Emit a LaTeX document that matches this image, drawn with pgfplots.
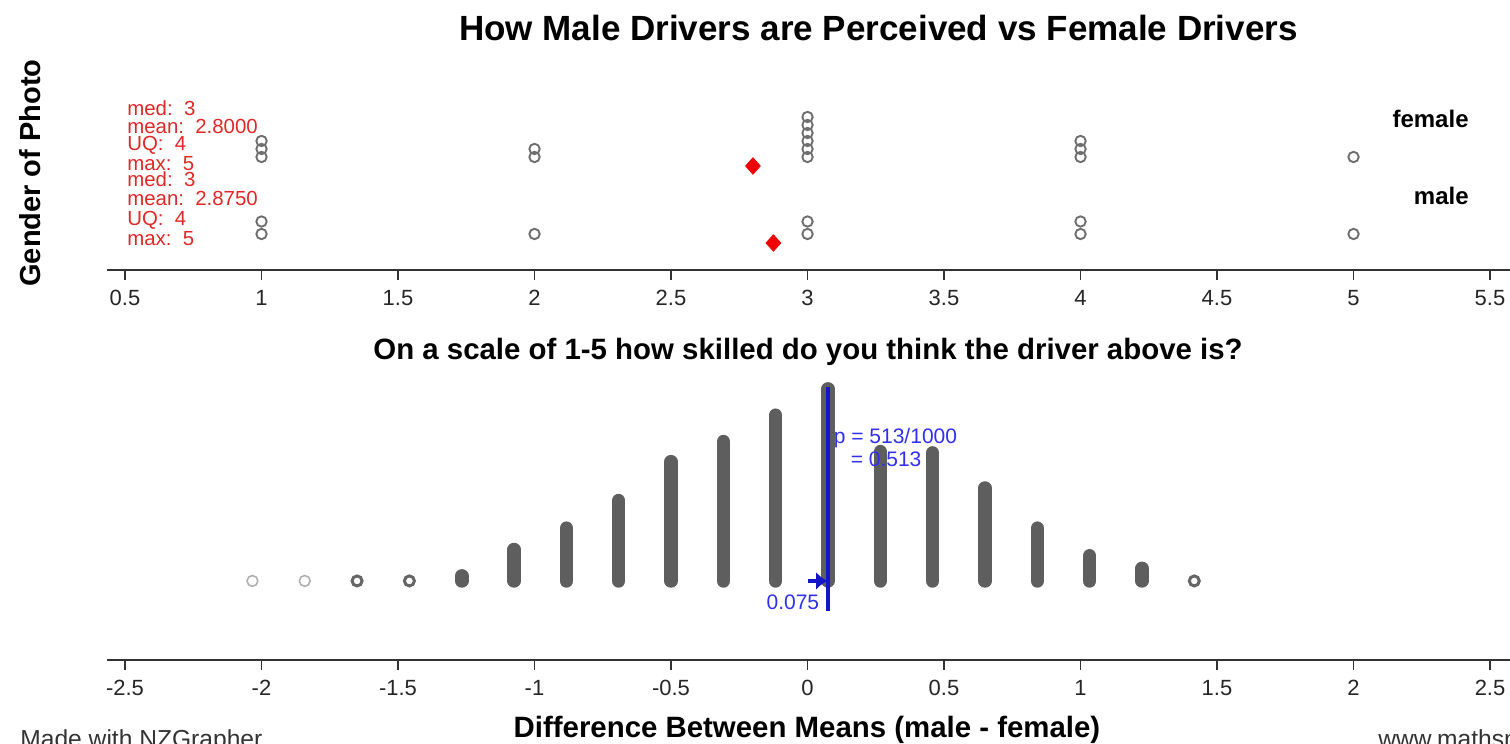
\documentclass[border=0pt]{standalone}
\usepackage{pgfplots}
\pgfplotsset{compat=1.18}
\usepackage{pgfplotstable}
\usepackage{fontspec}
\setmainfont{Liberation Sans}
\usetikzlibrary{arrows.meta}
\definecolor{dotgray}{HTML}{6E6E6E}
\definecolor{lightring}{HTML}{B0B0B0}
\definecolor{midring}{HTML}{666666}
\definecolor{stackgray}{HTML}{5E5E5E}
\definecolor{nzred}{HTML}{E02828}
\definecolor{nzdiamond}{HTML}{F00000}
\definecolor{nzblue}{HTML}{1414C8}
\definecolor{nzbluetext}{HTML}{3030EE}
\definecolor{axisgray}{HTML}{333333}

% randomisation distribution: difference between means (male - female), 1000 re-randomisations
\pgfplotstableread{
x count
-2.0333 1
-1.8417 1
-1.6500 2
-1.4583 3
-1.2667 5
-1.0750 26
-0.8833 43
-0.6917 65
-0.5000 96
-0.3083 112
-0.1167 133
0.0750 154
0.2667 104
0.4583 103
0.6500 75
0.8417 43
1.0333 21
1.2250 11
1.4167 2
}\stacks

\pgfplotsset{
  nzaxis/.style={
    x=136.5pt,
    axis x line=bottom, axis y line=none,
    x axis line style={-, line width=1.2pt, color=axisgray},
    xtick align=outside,
    major tick length=5pt,
    tick style={line width=0.8pt, color=axisgray},
    xticklabel style={font=\fontsize{11}{13}\selectfont, text=black!85, yshift=-1.5pt},
    /pgf/number format/assume math mode=true,
    clip=false,
  }
}

\begin{document}
\begin{tikzpicture}
\useasboundingbox (0,0) rectangle (755pt,372pt);

% titles and labels
\node[anchor=base, inner sep=0pt, font=\fontsize{17.5}{20}\selectfont\bfseries] at (439.25pt,351.75pt) {How Male Drivers are Perceived vs Female Drivers};
\node[anchor=base, inner sep=0pt, font=\fontsize{14.7}{17}\selectfont\bfseries] at (404pt,192pt) {On a scale of 1-5 how skilled do you think the driver above is?};
\node[anchor=base, inner sep=0pt, font=\fontsize{14.7}{17}\selectfont\bfseries] at (403.5pt,3pt) {Difference Between Means (male - female)};
\node[rotate=90, anchor=center, inner sep=0pt, font=\fontsize{14.5}{17}\selectfont\bfseries] at (15pt,285.5pt) {Gender of Photo};
\node[anchor=base west, inner sep=0pt, font=\fontsize{12.3}{14}\selectfont, text=black!80] at (10pt,-1.8pt) {Made with NZGrapher};
\node[anchor=base west, inner sep=0pt, font=\fontsize{12.3}{14}\selectfont, text=black!80] at (689pt,-1.8pt) {www.mathsnz.com};

% ---------------- top panel: dot plot ----------------
\begin{axis}[nzaxis,
  at={(53.5pt,237pt)}, anchor=south west,
  y=0.5pt,
  xmin=0.434, xmax=5.573, ymin=0, ymax=180,
  xtick={0.5,1,1.5,2,2.5,3,3.5,4,4.5,5,5.5},
  xticklabels={0.5,1,1.5,2,2.5,3,3.5,4,4.5,5,5.5},
]
% female ratings (n = 15)
\addplot[only marks, mark=o, mark size=2.6pt, color=dotgray, line width=0.95pt] coordinates {
 (1,113) (1,121) (1,129)
 (2,113) (2,121)
 (3,113) (3,121) (3,129) (3,137) (3,145) (3,153)
 (4,113) (4,121) (4,129)
 (5,113)
};
% male ratings (n = 8)
\addplot[only marks, mark=o, mark size=2.6pt, color=dotgray, line width=0.95pt] coordinates {
 (1,36) (1,48.5)
 (2,36)
 (3,36) (3,48.5)
 (4,36) (4,48.5)
 (5,36)
};
% means
\addplot[only marks, mark=diamond*, mark size=4.1pt, color=nzdiamond, mark options={xscale=1.2, line join=round}] coordinates {(2.8,104) (2.875,27)};

\begin{scope}[every node/.style={anchor=west, inner sep=0pt, font=\fontsize{10.2}{12}\selectfont, text=nzred}]
\node at (axis cs:0.507,161.3) {med:\ \ 3};
\node at (axis cs:0.507,143.7) {mean:\ \ 2.8000};
\node at (axis cs:0.507,124.7) {UQ:\ \ 4};
\node at (axis cs:0.507,106.3) {max:\ \ 5};
\node at (axis cs:0.507,91) {med:\ \ 3};
\node at (axis cs:0.507,71.3) {mean:\ \ 2.8750};
\node at (axis cs:0.507,49.7) {UQ:\ \ 4};
\node at (axis cs:0.507,31.3) {max:\ \ 5};
\end{scope}
\node[anchor=east, inner sep=0pt, font=\fontsize{12}{14}\selectfont\bfseries] at (axis cs:5.423,151) {female};
\node[anchor=east, inner sep=0pt, font=\fontsize{12}{14}\selectfont\bfseries] at (axis cs:5.423,74) {male};
\end{axis}

% ---------------- bottom panel: randomisation distribution ----------------
\begin{axis}[nzaxis,
  at={(53.5pt,42pt)}, anchor=south west,
  y=0.6275pt,
  xmin=-2.566, xmax=2.573, ymin=-63, ymax=160,
  xtick={-2.5,-2,-1.5,-1,-0.5,0,0.5,1,1.5,2,2.5},
  xticklabels={{-2.5},{-2},{-1.5},{-1},{-0.5},{0},{0.5},{1},{1.5},{2},{2.5}},
]
% stacks of many dots
\addplot[ycomb, color=stackgray, line width=6.8pt, line cap=round, mark=none,
  restrict expr to domain={\thisrow{count}}{4:5000}]
  table[x=x, y expr=\thisrow{count}-1] {\stacks};
% single dots
\addplot[only marks, mark=o, mark size=2.7pt, color=lightring, line width=0.8pt,
  restrict expr to domain={\thisrow{count}}{1:1}]
  table[x=x, y expr=0*\thisrow{count}] {\stacks};
% two or three overlapping dots
\addplot[only marks, mark=o, mark size=2.5pt, color=midring, line width=1.5pt,
  restrict expr to domain={\thisrow{count}}{2:3}]
  table[x=x, y expr=0*\thisrow{count}] {\stacks};

% observed difference and tail proportion
\draw[nzblue, line width=2pt] (axis cs:0.075,-24.3) -- (axis cs:0.075,154.2);
\draw[nzblue, line width=2.2pt, -{Latex[length=5.5pt,width=9pt]}] (axis cs:0,0) -- (axis cs:0.072,0);
\node[anchor=east, inner sep=0pt, font=\fontsize{10.5}{12}\selectfont, text=nzbluetext] at (axis cs:0.044,-17.1) {0.075};
\node[anchor=west, inner sep=0pt, font=\fontsize{10.5}{12}\selectfont, text=nzbluetext] at (axis cs:0.095,113.5) {p = 513/1000};
\node[anchor=west, inner sep=0pt, font=\fontsize{10.5}{12}\selectfont, text=nzbluetext] at (axis cs:0.157,96.8) {= 0.513};
\end{axis}
\end{tikzpicture}
\end{document}
